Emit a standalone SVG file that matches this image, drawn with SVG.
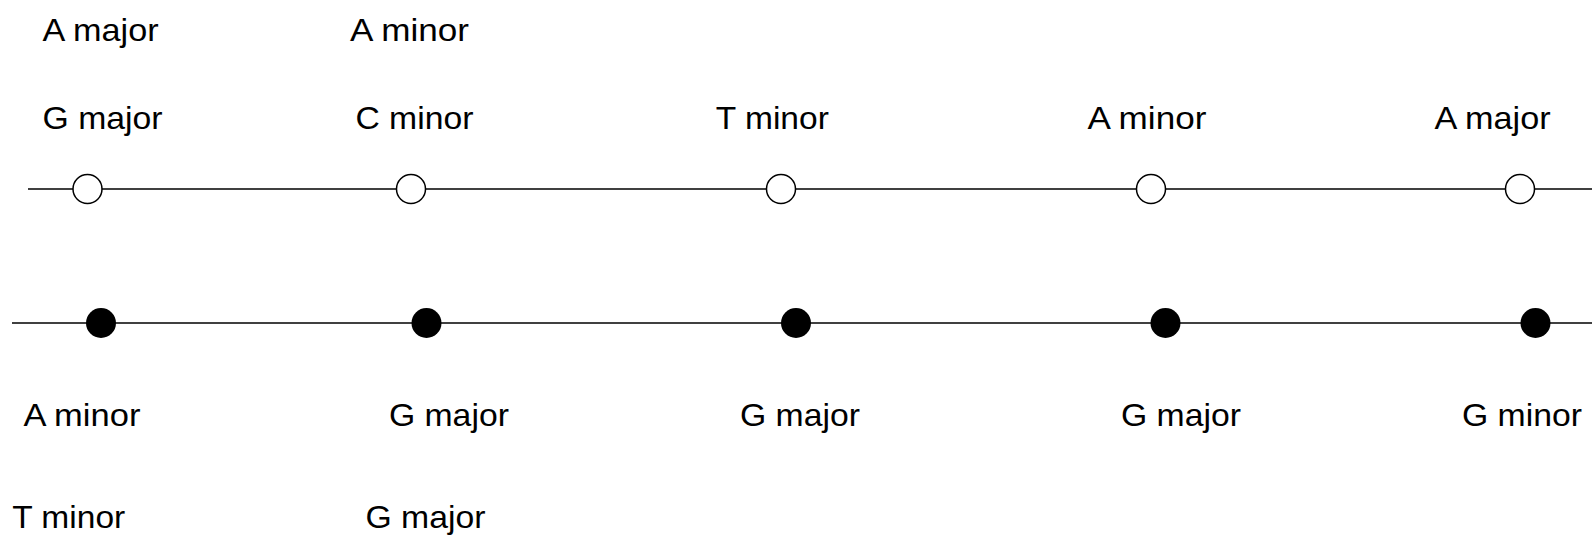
<svg xmlns="http://www.w3.org/2000/svg" width="1592" height="536" viewBox="0 0 1592 536">
<style>
  .lbl { font-family: "Liberation Sans", Arial, sans-serif; font-size: 32px; fill: #000; }
  .line { stroke: #000; stroke-width: 1.6; fill: none; }
  .open { fill: #fff; stroke: #000; stroke-width: 1.5; }
  .dot { fill: #000; stroke: none; }
</style>
<rect width="1592" height="536" fill="#fff"/>
<g id="connectors">
  <line class="line" x1="28" y1="189" x2="1592" y2="189"/>
  <line class="line" x1="12" y1="323" x2="1592" y2="323"/>
</g>
<g id="top1"><circle class="open" cx="87.5" cy="189" r="14.5"/><text class="lbl" x="42.6" y="41" textLength="116" lengthAdjust="spacingAndGlyphs">A major</text><text class="lbl" x="42.6" y="129" textLength="120" lengthAdjust="spacingAndGlyphs">G major</text></g>
<g id="top2"><circle class="open" cx="411" cy="189" r="14.5"/><text class="lbl" x="350" y="41" textLength="119" lengthAdjust="spacingAndGlyphs">A minor</text><text class="lbl" x="355.4" y="129" textLength="118" lengthAdjust="spacingAndGlyphs">C minor</text></g>
<g id="top3"><circle class="open" cx="781" cy="189" r="14.5"/><text class="lbl" x="715.8" y="129" textLength="113" lengthAdjust="spacingAndGlyphs">T minor</text></g>
<g id="top4"><circle class="open" cx="1151" cy="189" r="14.5"/><text class="lbl" x="1087.4" y="129" textLength="119" lengthAdjust="spacingAndGlyphs">A minor</text></g>
<g id="top5"><circle class="open" cx="1520" cy="189" r="14.5"/><text class="lbl" x="1434.6" y="129" textLength="116" lengthAdjust="spacingAndGlyphs">A major</text></g>
<g id="bot1"><circle class="dot" cx="101" cy="323" r="15"/><text class="lbl" x="23.4" y="426" textLength="117" lengthAdjust="spacingAndGlyphs">A minor</text><text class="lbl" x="12.2" y="528" textLength="113" lengthAdjust="spacingAndGlyphs">T minor</text></g>
<g id="bot2"><circle class="dot" cx="426.5" cy="323" r="15"/><text class="lbl" x="388.9" y="426" textLength="120" lengthAdjust="spacingAndGlyphs">G major</text><text class="lbl" x="365.5" y="528" textLength="120" lengthAdjust="spacingAndGlyphs">G major</text></g>
<g id="bot3"><circle class="dot" cx="796" cy="323" r="15"/><text class="lbl" x="740" y="426" textLength="120" lengthAdjust="spacingAndGlyphs">G major</text></g>
<g id="bot4"><circle class="dot" cx="1165.5" cy="323" r="15"/><text class="lbl" x="1121" y="426" textLength="120" lengthAdjust="spacingAndGlyphs">G major</text></g>
<g id="bot5"><circle class="dot" cx="1535.5" cy="323" r="15"/><text class="lbl" x="1462" y="426" textLength="120" lengthAdjust="spacingAndGlyphs">G minor</text></g>
</svg>
